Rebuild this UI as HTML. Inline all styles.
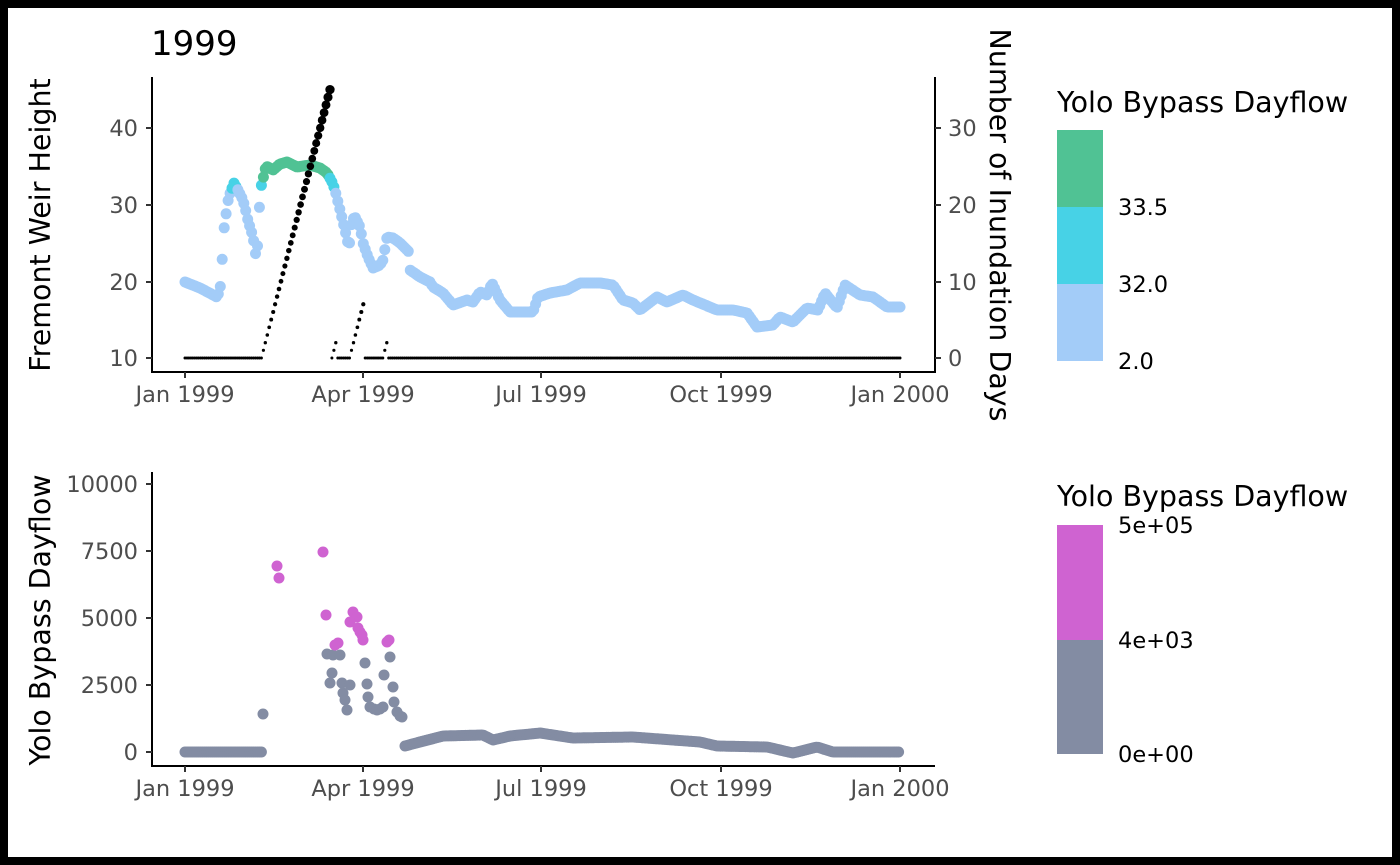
<!DOCTYPE html>
<html><head><meta charset="utf-8">
<style>
html,body{margin:0;padding:0;background:#000;}
svg{display:block;}
text{font-family:"DejaVu Sans","Liberation Sans",sans-serif;}
</style></head><body>
<svg id="s" width="1400" height="865" xmlns="http://www.w3.org/2000/svg">
<rect x="0" y="0" width="1400" height="865" fill="#000"/>
<rect x="8" y="8" width="1384" height="849" fill="#fff"/>
<g id="pts"></g>
<g stroke="#000" stroke-width="2" fill="none">
<path d="M152,77V372H935V77"/>
<path d="M152,472V766H935"/>
</g>
<g stroke="#333" stroke-width="2">
<path d="M146,358H152M146,282H152M146,205H152M146,128H152"/>
<path d="M935,358H941M935,282H941M935,205H941M935,128H941"/>
<path d="M185,372V378M363,372V378M541,372V378M721,372V378M900,372V378"/>
<path d="M146,752H152M146,685H152M146,618H152M146,551H152M146,484H152"/>
<path d="M185,766V772M363,766V772M541,766V772M721,766V772M900,766V772"/>
</g>
<g font-size="22.5" fill="#4d4d4d" text-anchor="end">
<text x="138" y="366">10</text><text x="138" y="290">20</text><text x="138" y="213">30</text><text x="138" y="136">40</text>
<text x="138" y="760">0</text><text x="138" y="693">2500</text><text x="138" y="626">5000</text><text x="138" y="559">7500</text><text x="138" y="492">10000</text>
</g>
<g font-size="22.5" fill="#4d4d4d" text-anchor="start">
<text x="948" y="366">0</text><text x="948" y="290">10</text><text x="948" y="213">20</text><text x="948" y="136">30</text>
</g>
<g font-size="22.5" fill="#4d4d4d" text-anchor="middle">
<text x="185" y="402">Jan 1999</text><text x="363" y="402">Apr 1999</text><text x="541" y="402">Jul 1999</text><text x="721" y="402">Oct 1999</text><text x="900" y="402">Jan 2000</text>
<text x="185" y="796">Jan 1999</text><text x="363" y="796">Apr 1999</text><text x="541" y="796">Jul 1999</text><text x="721" y="796">Oct 1999</text><text x="900" y="796">Jan 2000</text>
</g>
<text x="151" y="55" font-size="34" fill="#000">1999</text>
<text transform="translate(50,225) rotate(-90)" font-size="28.5" text-anchor="middle" fill="#000">Fremont Weir Height</text>
<text transform="translate(990,225) rotate(90)" font-size="28.5" text-anchor="middle" fill="#000">Number of Inundation Days</text>
<text transform="translate(50,620) rotate(-90)" font-size="28.5" text-anchor="middle" fill="#000">Yolo Bypass Dayflow</text>
<text x="1057" y="112" font-size="28.5" fill="#000">Yolo Bypass Dayflow</text>
<rect x="1057" y="130" width="46" height="77" fill="#50c294"/>
<rect x="1057" y="207" width="46" height="77" fill="#47d2e6"/>
<rect x="1057" y="284" width="46" height="77" fill="#a3ccf8"/>
<g font-size="22.5" fill="#000"><text x="1118" y="215">33.5</text><text x="1118" y="292">32.0</text><text x="1118" y="369">2.0</text></g>
<text x="1057" y="506" font-size="28.5" fill="#000">Yolo Bypass Dayflow</text>
<rect x="1057" y="525" width="46" height="115" fill="#cf63d1"/>
<rect x="1057" y="640" width="46" height="114" fill="#838ca3"/>
<g font-size="22.5" fill="#000"><text x="1118" y="533">5e+05</text><text x="1118" y="648">4e+03</text><text x="1118" y="762">0e+00</text></g>
</svg>
<script>
var g=document.getElementById('pts'),h='';
function c(x,y,r,f){h+='<circle cx="'+x.toFixed(1)+'" cy="'+y.toFixed(1)+'" r="'+r+'" fill="'+f+'"/>';}
function interp(k,x){for(var i=0;i<k.length-1;i++){if(x>=k[i][0]&&x<=k[i+1][0]){var t=(x-k[i][0])/(k[i+1][0]-k[i][0]||1);return k[i][1]+t*(k[i+1][1]-k[i][1]);}}return k[k.length-1][1];}
var px=715/365;
var K=[[185,282],[200,288],[217,297],[220,290],[222,263],[224,229],[226,215],[227,206],[229,196],[234,183],[238,190],[242,198],[245,207],[247,217],[250,227],[253,237],[255,250],[256,257],[258,242],[259,213],[261,187],[266,166],[273,170],[280,164],[287,162],[297,167],[310,165],[320,168],[327,173],[332,182],[335,190],[340,210],[345,230],[349,248],[352,220],[355,217],[360,227],[363,243],[368,257],[373,268],[380,265],[383,260],[387,237],[393,238],[400,243],[410,253],[410,270],[420,277],[430,282],[433,287],[443,293],[453,305],[467,300],[473,302],[480,292],[487,295],[492,283],[500,300],[510,312],[533,312],[538,297],[550,293],[567,290],[580,283],[600,283],[613,285],[623,300],[633,303],[640,310],[657,297],[667,302],[683,295],[693,300],[717,310],[733,310],[747,313],[757,327],[773,325],[780,317],[793,322],[807,308],[818,310],[825,293],[837,308],[845,285],[860,295],[873,297],[887,307],[900,307]];
for(var d=0;d<=365;d++){var x=185+d*px,y=interp(K,x);var f=y<178?'#50c294':(y<189?'#47d2e6':'#a3ccf8');c(x,y,5.5,f);}
var n=[];for(d=0;d<=365;d++)n[d]=0;
for(d=40;d<=74;d++)n[d]=d-39;
n[76]=1;n[77]=2;for(d=85;d<=91;d++)n[d]=d-84;n[102]=1;n[103]=2;
for(d=0;d<=365;d++){var x=185+d*px,y=358-n[d]*7.67;c(x,y,(1.5+n[d]*0.09).toFixed(2),'#000');}
var G='#838ca3',M='#cf63d1';
for(x=185;x<=263;x+=px)c(x,752,5.5,G);
var P=[[263,714,G],[277,566,M],[279,578,M],[323,552,M],[326,615,M],[327,654,G],[333,655,G],[340,655,G],[332,673,G],[330,683,G],[342,683,G],[350,685,G],[343,693,G],[345,700,G],[347,710,G],[335,645,M],[338,643,M],[353,612,M],[357,617,M],[350,622,M],[358,628,M],[360,632,M],[362,635,M],[363,640,M],[365,663,G],[367,684,G],[368,697,G],[370,707,G],[374,709,G],[377,710,G],[380,709,G],[383,707,G],[384,675,G],[390,657,G],[393,687,G],[394,702,G],[397,712,G],[400,716,G],[402,717,G],[387,642,M],[389,640,M]];
P.forEach(function(p){c(p[0],p[1],5.5,p[2]);});
var B=[[405,746],[420,742],[443,736],[483,735],[493,740],[510,736],[540,733],[573,738],[633,737],[700,742],[717,746],[767,747],[793,753],[817,747],[833,752],[900,752]];
for(x=405;x<=900;x+=px)c(x,interp(B,x),5.5,G);
g.innerHTML=h;
</script>
</body></html>
